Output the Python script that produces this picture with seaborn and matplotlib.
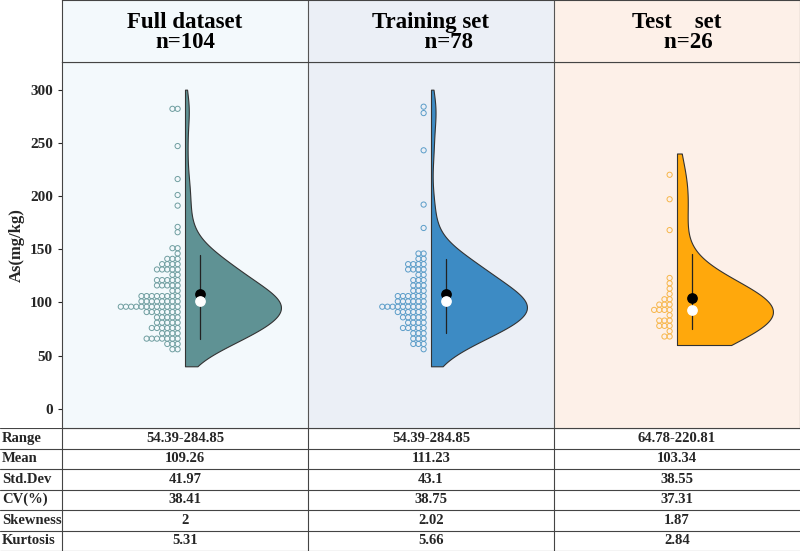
import numpy as np
import matplotlib
matplotlib.use("Agg")
import matplotlib.pyplot as plt
import seaborn as sns

sns.set_style("white")
plt.rcParams['font.family'] = ['Liberation Serif', 'DejaVu Serif']

# --------------------------
# data (binned values: value -> count)
# --------------------------
groups = ["Full dataset\nn=104", "Training set\n      n=78", "Test    set\n    n=26"]

full_vals = [282, 247, 216, 201, 191, 171, 166, 151, 146,
             141, 136, 131, 126, 121, 116, 111, 106, 101, 96, 91, 86, 81, 76, 71, 66, 61, 56]
full_cnts = [2, 1, 1, 1, 1, 1, 1, 2, 1,
             3, 4, 5, 2, 5, 5, 2, 8, 8, 12, 7, 5, 5, 6, 4, 7, 3, 2]

train_vals = [284, 278, 243, 192, 170,
              146, 141, 136, 131, 126, 121, 116, 111, 106, 101, 96, 91, 86, 81, 76, 71, 66, 61, 56]
train_cnts = [1, 1, 1, 1, 1,
              2, 2, 4, 4, 2, 3, 3, 3, 6, 6, 9, 6, 5, 4, 5, 3, 3, 3, 1]

test_vals = [220, 197, 168, 123, 118, 113, 108, 103, 98, 93, 88, 83, 78, 73, 68]
test_cnts = [1, 1, 1, 1, 1, 1, 1, 2, 3, 4, 1, 3, 3, 1, 2]

row_labels = ["Range", "Mean", "Std.Dev", "CV(%)", "Skewness", "Kurtosis"]
table_vals = [["54.39-284.85", "54.39-284.85", "64.78-220.81"],
              ["109.26", "111.23", "103.34"],
              ["41.97", "43.1", "38.55"],
              ["38.41", "38.75", "37.31"],
              ["2", "2.02", "1.87"],
              ["5.31", "5.66", "2.84"]]

fills = ["#5f9294", "#3d8bc4", "#ffa80c"]
dot_edges = ["#6f9ea0", "#5a9cc8", "#f7b64a"]
bgs = ["#f3f9fc", "#ebeff6", "#fdf0e8"]
lows = [40, 40, 60]
highs = [300, 300, 240]
bw_adj = [1.0, 1.0, 1.25]

data = [np.repeat(full_vals, full_cnts).astype(float),
        np.repeat(train_vals, train_cnts).astype(float),
        np.repeat(test_vals, test_cnts).astype(float)]

W, H = 800, 551
fig = plt.figure(figsize=(8, 5.51), dpi=100)
L, T, B = 62, 62, 428
ax = fig.add_axes([L / W, 1 - B / H, 1 - L / W, (B - T) / H])

def kde(x, grid, adj):
    bw = 1.06 * x.std() * len(x) ** (-0.2) * adj
    z = (grid[:, None] - x[None, :]) / bw
    return np.exp(-0.5 * z ** 2).sum(1)

for i, d in enumerate(data):
    ax.axvspan(i, i + 1, color=bgs[i], zorder=0)
    c = i + 0.5
    grid = np.linspace(lows[i], highs[i], 300)
    dens = kde(d, grid, bw_adj[i])
    dens = dens / dens.max() * 0.39
    ax.fill_betweenx(grid, c, c + dens, color=fills[i], ec="#333333", lw=0.8, zorder=2)
    # dot plot (stacked to the left)
    vals, cnts = np.unique(d, return_counts=True)
    xs, ys = [], []
    for v, n in zip(vals, cnts):
        for k in range(n):
            xs.append(c - 0.03 - k * 0.021)
            ys.append(v)
    sns.scatterplot(x=xs, y=ys, ax=ax, s=14, facecolor="none", edgecolor=dot_edges[i],
                    linewidth=0.7, zorder=3, legend=False)
    lo, hi = np.percentile(d, [10, 90])
    ax.plot([c + 0.06, c + 0.06], [lo, hi], color="#222222", lw=0.9, zorder=4)
    ax.scatter([c + 0.06], [d.mean()], s=45, color="black", zorder=5)
    ax.scatter([c + 0.06], [np.median(d)], s=45, color="white", zorder=5)

for xv in [1, 2]:
    ax.axvline(xv, color="#555555", lw=0.8)
ax.set_xlim(0, 3)
ax.set_ylim(-18, 326)
ax.set_xticks([])
ax.set_yticks(range(0, 301, 50))
ax.tick_params(axis="y", labelsize=11, direction="out", length=3, left=True)
for lab in ax.get_yticklabels():
    lab.set_fontweight("bold")
ax.set_ylabel("As(mg/kg)", fontsize=12, fontweight="bold")
for s in ax.spines.values():
    s.set_color("#444444")

# header
hax = fig.add_axes([L / W, 1 - T / H, 1 - L / W, T / H])
hax.set_xlim(0, 3)
hax.set_ylim(0, 1)
hax.set_xticks([])
hax.set_yticks([])
for i, g in enumerate(groups):
    hax.axvspan(i, i + 1, color=bgs[i])
    hax.text(i + 0.5, 0.47, g, ha="center", va="center", fontsize=16.5, fontweight="bold",
             linespacing=0.95, color="black")
for xv in [1, 2]:
    hax.axvline(xv, color="#555555", lw=0.8)
for s in hax.spines.values():
    s.set_color("#444444")

# table
tax = fig.add_axes([0, 0, 1, 1 - B / H])
tax.set_xlim(0, W)
tax.set_ylim(len(row_labels), 0)
tax.axis("off")
xc = [L + 246 * (i + 0.5) for i in range(3)]
for r, lab in enumerate(row_labels):
    tax.text(2, r + 0.5, lab, ha="left", va="center", fontsize=10.5, fontweight="bold")
    for i in range(3):
        tax.text(xc[i], r + 0.5, table_vals[r][i], ha="center", va="center", fontsize=10.5, fontweight="bold")
    tax.axhline(r, color="#444444", lw=0.8)
tax.axhline(len(row_labels) - 0.02, color="#444444", lw=0.8)
for xv in [L, L + 246, L + 492]:
    tax.axvline(xv, color="#444444", lw=0.8)

fig.savefig("out.png", dpi=100)
